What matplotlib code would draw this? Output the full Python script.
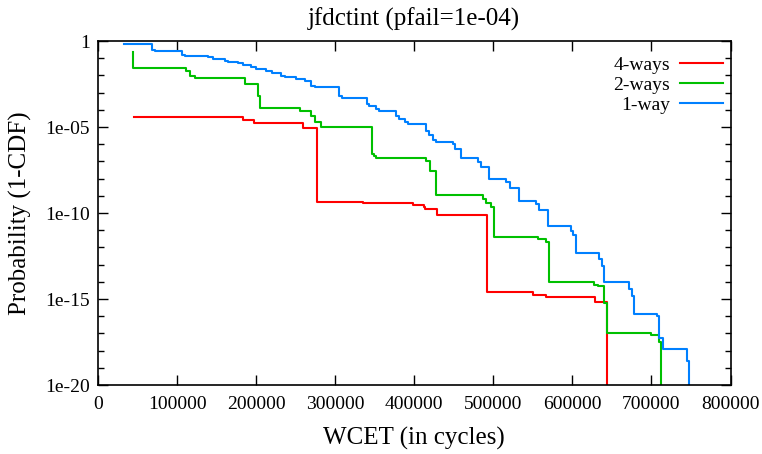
import matplotlib
matplotlib.use("Agg")
import matplotlib.pyplot as plt
from matplotlib.ticker import FixedLocator, NullFormatter

# Exceedance curves (1-CDF) of the WCET, one per cache configuration
wcet_1way = [33000, 68600, 72000, 106000, 110000, 139000, 145000, 160000, 165000, 177000,
             183000, 194000, 200000, 213000, 220000, 232000, 236000, 250000, 262000, 270000,
             274000, 305000, 309000, 340000, 343000, 352000, 356000, 377000, 381000, 388000,
             392000, 415000, 419000, 424000, 428000, 449000, 452000, 459000, 480000, 484000,
             495000, 516000, 521000, 533000, 554000, 558000, 569000, 598000, 601000, 605000,
             634000, 637000, 640000, 672000, 675000, 678000, 707000, 710000, 714000, 745000,
             747000]
prob_1way = [6.5e-01, 3.2e-01, 2.8e-01, 1.6e-01, 1.3e-01, 1.1e-01, 9.0e-02, 7.1e-02, 6.0e-02, 5.0e-02,
             4.0e-02, 3.0e-02, 2.5e-02, 1.9e-02, 1.4e-02, 9.5e-03, 8.0e-03, 6.3e-03, 4.5e-03, 2.5e-03,
             2.1e-03, 6.6e-04, 5.0e-04, 2.1e-04, 1.6e-04, 1.1e-04, 8.0e-05, 4.5e-05, 3.0e-05, 1.9e-05,
             1.4e-05, 6.0e-06, 3.5e-06, 1.8e-06, 1.4e-06, 1.0e-06, 5.0e-07, 1.5e-07, 8.7e-08, 5.0e-08,
             9.3e-09, 6.0e-09, 3.0e-09, 5.0e-10, 3.2e-10, 1.5e-10, 1.8e-11, 9.1e-12, 5.0e-12, 5.0e-13,
             2.0e-13, 8.0e-14, 1.0e-14, 3.6e-15, 1.5e-15, 1.4e-16, 1.0e-16, 5.6e-18, 1.2e-18, 2.5e-19,
             1e-21]

wcet_2ways = [43800, 43800, 111000, 116000, 123000, 186500, 202500, 204500, 255000,
              270000, 275000, 282000, 346000, 349000, 352000, 415000, 419600, 428000, 487000,
              491000, 497000, 501000, 556000, 567000, 571000, 627000, 633000, 640000,
              644300, 699000, 709000, 712500]
prob_2ways = [2.2e-01, 2.6e-02, 1.7e-02, 9.5e-03, 6.8e-03, 3.2e-03, 6.6e-04, 1.2e-04, 8.9e-05,
              4.6e-05, 2.0e-05, 9.5e-06, 2.7e-07, 2.0e-07, 1.5e-07, 1.0e-07, 2.9e-08, 1.1e-09, 6.3e-10,
              3.8e-10, 2.1e-10, 4.2e-12, 3.1e-12, 2.0e-12, 9.3e-15, 6.5e-15, 5.5e-15, 5.6e-16,
              1.0e-17, 8.1e-18, 3.3e-18, 1e-21]

wcet_4ways = [45800, 183000, 197000, 259500, 277500, 335000, 398000, 412000, 414000,
              429000, 492000, 550000, 566500, 629000, 644000]
prob_4ways = [3.6e-05, 2.7e-05, 1.8e-05, 8.7e-06, 4.6e-10, 3.6e-10, 3.0e-10, 2.3e-10, 1.6e-10,
              7.6e-11, 2.5e-15, 1.7e-15, 1.3e-15, 6.3e-16, 1e-21]

plt.rcParams["font.family"] = ["Liberation Serif", "DejaVu Serif"]

fig = plt.figure(figsize=(7.62, 4.54), dpi=100)
ax = fig.add_axes([98 / 762, 1 - 385 / 454, 632.5 / 762, 344 / 454])

ax.plot(wcet_4ways, prob_4ways, drawstyle="steps-post", color="#ff0000", lw=1.5, label="4-ways")
ax.plot(wcet_2ways, prob_2ways, drawstyle="steps-post", color="#00c000", lw=1.5, label="2-ways")
ax.plot(wcet_1way, prob_1way, drawstyle="steps-post", color="#0080ff", lw=1.5, label="1-way")

ax.set_yscale("log")
ax.set_xlim(0, 800000)
ax.set_ylim(1e-20, 1)

ax.set_xticks(range(0, 800001, 100000))
ax.set_xticklabels([str(v) for v in range(0, 800001, 100000)])
ax.yaxis.set_major_locator(FixedLocator([1e-20, 1e-15, 1e-10, 1e-05, 1]))
ax.set_yticklabels(["1e-20", "1e-15", "1e-10", "1e-05", "1"])
ax.yaxis.set_minor_locator(FixedLocator([10.0 ** -k for k in range(1, 20) if k % 5]))
ax.yaxis.set_minor_formatter(NullFormatter())

ax.tick_params(which="both", direction="in", top=True, right=True, labelsize=14, width=1)
ax.tick_params(which="major", length=7)
ax.tick_params(which="minor", length=4)
ax.tick_params(axis="x", pad=8)
ax.tick_params(axis="y", pad=6)
for side in ax.spines.values():
    side.set_linewidth(1.2)

ax.set_title("jfdctint (pfail=1e-04)", fontsize=18, pad=11)
ax.set_xlabel("WCET (in cycles)", fontsize=18, labelpad=10)
ax.set_ylabel("Probability (1-CDF)", fontsize=18, labelpad=9)

ax.legend(loc="upper right", frameon=False, markerfirst=False, fontsize=14,
          handlelength=2.2, handletextpad=0.5, labelspacing=0.12,
          borderaxespad=0.4, bbox_to_anchor=(1.012, 1.0))

fig.savefig("out.png", dpi=100)
